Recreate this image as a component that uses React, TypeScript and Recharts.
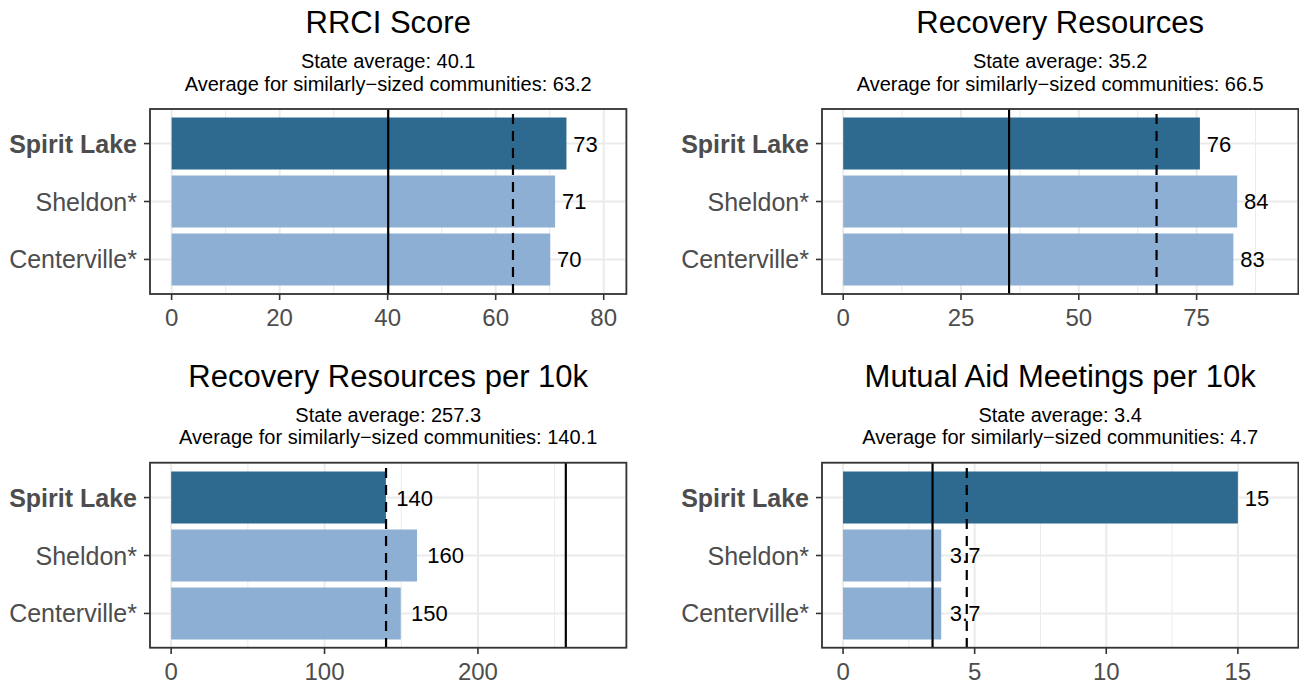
import { Bar, BarChart, CartesianGrid, Cell, LabelList, ReferenceLine, XAxis, YAxis } from "recharts";

const communities = ["Spirit Lake", "Sheldon*", "Centerville*"];

const rrciScore = [73.1, 71.0, 70.1];
const recoveryResources = [75.7, 83.6, 82.8];
const resourcesPer10k = [140.0, 160.3, 149.7];
const meetingsPer10k = [15.0, 3.73, 3.73];

const panelTitles = ["RRCI Score", "Recovery Resources", "Recovery Resources per 10k", "Mutual Aid Meetings per 10k"];
const stateAverages = [40.1, 35.2, 257.3, 3.4];
const similarAverages = [63.2, 66.5, 140.1, 4.7];

const majorTicks = [
  [0, 20, 40, 60, 80],
  [0, 25, 50, 75],
  [0, 100, 200],
  [0, 5, 10, 15],
];
const minorTicks = [
  [10, 30, 50, 70],
  [12.5, 37.5, 62.5, 87.5],
  [50, 150, 250],
  [2.5, 7.5, 12.5],
];
const xDomains: [number, number][] = [
  [-4, 84.2],
  [-4.5, 96.6],
  [-13.8, 296.8],
  [-0.8, 17.3],
];

const seriesValues = [rrciScore, recoveryResources, resourcesPer10k, meetingsPer10k];

const CHART_W = 627;
const CHART_H = 345;
const PLOT_LEFT = 150;
const PLOT_TOP = 109;
const PLOT_H = 185;
const COL_OFFSET = 672;
const ROW_OFFSET = 353.7;

const DARK = "#2E6A8F";
const LIGHT = "#8DAFD3";
const FONT = "'Liberation Sans', Arial, Helvetica, sans-serif";

const fmt = (v: number) => String(Number(v.toPrecision(2)));
const textWidth = (s: string, size: number) =>
  s.split("").reduce((w, c) => w + (c === "." ? 0.278 : 0.556), 0) * size;

function ValueLabel(props: any) {
  const { x, y, width, height, value } = props;
  const s = fmt(Number(value));
  const w = textWidth(s, 22);
  return (
    <text x={x + width + 0.28 * w} y={y + height / 2} dy="0.36em" fontSize={22} fill="#000" fontFamily={FONT}>
      {s}
    </text>
  );
}

function CommunityTick(props: any) {
  const { x, y, payload } = props;
  return (
    <text
      x={x}
      y={y}
      dy="0.36em"
      textAnchor="end"
      fontSize={25}
      fill="#4D4D4D"
      fontFamily={FONT}
      fontWeight={payload.value === "Spirit Lake" ? "bold" : "normal"}
    >
      {payload.value}
    </text>
  );
}

function Panel({ i }: { i: number }) {
  const data = communities.map((name, k) => ({ name, value: seriesValues[i][k] }));
  return (
    <BarChart
      width={CHART_W}
      height={CHART_H}
      data={data}
      layout="vertical"
      margin={{ top: PLOT_TOP, right: 0.6, bottom: 0, left: 0 }}
    >
      <CartesianGrid xAxisId="minor" horizontal={false} stroke="#EBEBEB" strokeWidth={1} />
      <CartesianGrid stroke="#EBEBEB" strokeWidth={2} />
      <XAxis xAxisId="minor" type="number" domain={xDomains[i]} ticks={minorTicks[i]} allowDataOverflow hide />
      <XAxis
        type="number"
        domain={xDomains[i]}
        ticks={majorTicks[i]}
        allowDataOverflow
        height={CHART_H - PLOT_TOP - PLOT_H}
        axisLine={false}
        tickSize={6}
        tickMargin={9}
        tickLine={{ stroke: "#333333", strokeWidth: 1.6 }}
        tick={{ fill: "#4D4D4D", fontSize: 24, fontFamily: FONT }}
      />
      <YAxis
        type="category"
        dataKey="name"
        width={PLOT_LEFT}
        axisLine={false}
        tickSize={6}
        tickMargin={7}
        tickLine={{ stroke: "#333333", strokeWidth: 1.6 }}
        tick={<CommunityTick />}
        padding={{ top: 5.6, bottom: 5.6 }}
      />
      <Bar dataKey="value" barSize={52} isAnimationActive={false}>
        {data.map((d) => (
          <Cell key={d.name} fill={d.name === "Spirit Lake" ? DARK : LIGHT} />
        ))}
        <LabelList dataKey="value" content={<ValueLabel />} />
      </Bar>
      <ReferenceLine x={stateAverages[i]} stroke="#000" strokeWidth={2.2} />
      <ReferenceLine x={similarAverages[i]} stroke="#000" strokeWidth={2.2} strokeDasharray="10 7" />
    </BarChart>
  );
}

export default function App() {
  const plotW = CHART_W - 0.6 - PLOT_LEFT;
  return (
    <div
      style={{
        position: "absolute",
        left: 0,
        top: 0,
        width: 1299,
        height: 681,
        overflow: "hidden",
        background: "#fff",
        fontFamily: FONT,
      }}
    >
      {panelTitles.map((t, i) => (
        <div
          key={t}
          style={{
            position: "absolute",
            left: (i % 2) * COL_OFFSET,
            top: Math.floor(i / 2) * ROW_OFFSET,
          }}
        >
          <Panel i={i} />
        </div>
      ))}
      <svg width={1299} height={681} style={{ position: "absolute", left: 0, top: 0, pointerEvents: "none" }}>
        {panelTitles.map((t, i) => {
          const ox = (i % 2) * COL_OFFSET;
          const oy = Math.floor(i / 2) * ROW_OFFSET;
          const cx = ox + PLOT_LEFT + plotW / 2;
          return (
            <g key={t} fontFamily={FONT}>
              <text x={cx} y={oy + 33.3} textAnchor="middle" fontSize={31} fill="#000">
                {t}
              </text>
              <text x={cx} y={oy + 68.3} textAnchor="middle" fontSize={20} fill="#000">
                {`State average: ${stateAverages[i]}`}
              </text>
              <text x={cx} y={oy + 90.7} textAnchor="middle" fontSize={20} fill="#000">
                {`Average for similarly\u2212sized communities: ${similarAverages[i]}`}
              </text>
              <rect
                x={ox + PLOT_LEFT}
                y={oy + PLOT_TOP}
                width={plotW}
                height={PLOT_H}
                fill="none"
                stroke="#333333"
                strokeWidth={1.8}
              />
            </g>
          );
        })}
      </svg>
    </div>
  );
}
